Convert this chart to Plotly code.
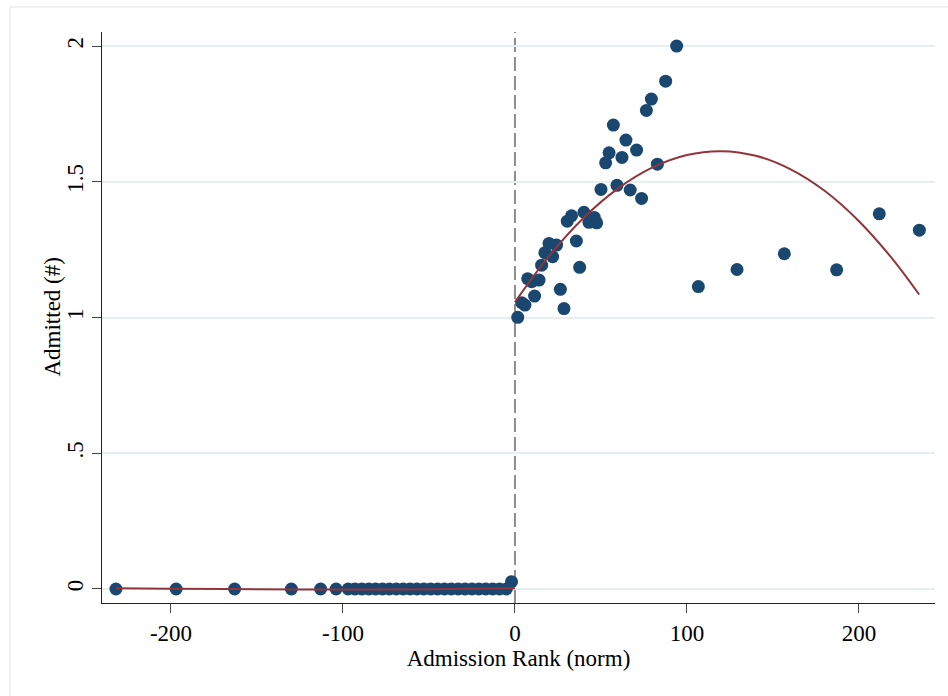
import plotly.graph_objects as go

# ---- data ----
left_x = [-232, -197, -163, -130, -113, -104,
          -97, -93, -89, -85, -81, -77, -73, -69, -65, -61, -57, -53,
          -49, -45, -41, -37, -33, -29, -25, -21, -17, -13, -9, -5, -2]
left_y = [0, 0, 0, 0, 0, 0,
          0, 0, 0, 0, 0, 0, 0, 0, 0, 0, 0, 0,
          0, 0, 0, 0, 0, 0, 0, 0, 0, 0, 0, 0, 0.027]

right_x = [1.6, 3.9, 5.8, 11.4, 7.4, 9.7, 14.0, 15.5, 17.4, 19.8, 24.2, 21.9,
           26.4, 28.5, 30.4, 32.9, 35.7, 37.6, 40.1, 43.0, 46.1, 47.5, 50.0,
           52.7, 54.7, 57.2, 59.3, 62.2, 64.5, 67.0, 70.7, 73.6, 76.4, 79.3,
           82.8, 87.6, 94.0, 106.6, 129.1, 156.6, 187.0, 211.8, 235.1]
right_y = [1.001, 1.055, 1.046, 1.079, 1.143, 1.132, 1.138, 1.193, 1.239, 1.273,
           1.267, 1.224, 1.104, 1.033, 1.355, 1.375, 1.282, 1.185, 1.388, 1.351,
           1.369, 1.349, 1.472, 1.570, 1.607, 1.709, 1.487, 1.590, 1.654, 1.470,
           1.617, 1.439, 1.763, 1.805, 1.565, 1.871, 2.000, 1.114, 1.177, 1.235,
           1.176, 1.382, 1.322]

left_fit_x = [-232, -200, -150, -100, -50, 0]
left_fit_y = [0.003, 0.001, -0.001, -0.002, -0.001, 0.003]

right_fit_x = [0, 20, 40, 60, 80, 100, 120, 140, 160, 180, 200, 220, 235]
right_fit_y = [1.057, 1.228, 1.368, 1.476, 1.553, 1.599, 1.613, 1.596, 1.547,
               1.467, 1.355, 1.212, 1.085]

x_ticks = [-200, -100, 0, 100, 200]
x_ticktext = ["-200", "-100", "0", "100", "200"]
y_ticks = [0, 0.5, 1, 1.5, 2]
y_ticktext = ["0", ".5", "1", "1.5", "2"]

cutoff = 0

# ---- styles ----
NAVY = "#1a476f"
MAROON = "#90353b"
FONT = "Liberation Serif"

fig = go.Figure()
marker = dict(color=NAVY, size=13, line=dict(width=0))
fig.add_trace(go.Scatter(x=left_x, y=left_y, mode="markers", marker=marker,
                         showlegend=False, cliponaxis=False))
fig.add_trace(go.Scatter(x=right_x, y=right_y, mode="markers", marker=marker,
                         showlegend=False, cliponaxis=False))
fig.add_trace(go.Scatter(x=left_fit_x, y=left_fit_y, mode="lines",
                         line=dict(color=MAROON, width=2, shape="spline"),
                         showlegend=False))
fig.add_trace(go.Scatter(x=right_fit_x, y=right_fit_y, mode="lines",
                         line=dict(color=MAROON, width=2, shape="spline"),
                         showlegend=False))

fig.add_shape(type="line", xref="x", yref="paper", x0=cutoff, x1=cutoff,
              y0=0, y1=1, layer="between",
              line=dict(color="#8e8e8e", width=2, dash="14px,5px"))

# faint outer frame
fig.add_shape(type="rect", xref="paper", yref="paper",
              x0=-0.1104, x1=1.03, y0=-0.2, y1=1.0438,
              line=dict(color="#e9eef0", width=1.5), layer="below")

# y-axis title as annotation for exact placement
fig.add_annotation(text="Admitted (#)", xref="paper", yref="paper",
                   x=-0.060, y=0.5, xanchor="center", yanchor="middle",
                   textangle=-90, showarrow=False,
                   font=dict(family=FONT, size=23, color="black"))

fig.update_layout(
    width=948, height=696,
    margin=dict(l=102, r=13, t=32, b=93, autoexpand=False),
    paper_bgcolor="white", plot_bgcolor="white",
    font=dict(family=FONT, size=23, color="black"),
    showlegend=False,
)
fig.update_xaxes(
    range=[-240.1, 244.2], tickvals=x_ticks, ticktext=x_ticktext,
    showgrid=False, zeroline=False,
    showline=True, linecolor="#222222", linewidth=1.3,
    ticks="outside", ticklen=9, tickcolor="#444444", tickwidth=1.3,
    title=dict(text="Admission Rank (norm)", standoff=2,
               font=dict(family=FONT, size=23)),
    tickfont=dict(family=FONT, size=23),
)
fig.update_yaxes(
    range=[-0.0516, 2.052], tickvals=y_ticks, ticktext=y_ticktext,
    tickangle=-90,
    showgrid=True, gridcolor="#e6eef1", gridwidth=1.5, zeroline=False,
    showline=True, linecolor="#222222", linewidth=1.3,
    ticks="outside", ticklen=9, tickcolor="#444444", tickwidth=1.3,
    tickfont=dict(family=FONT, size=23),
)

fig.write_html("out.html")
